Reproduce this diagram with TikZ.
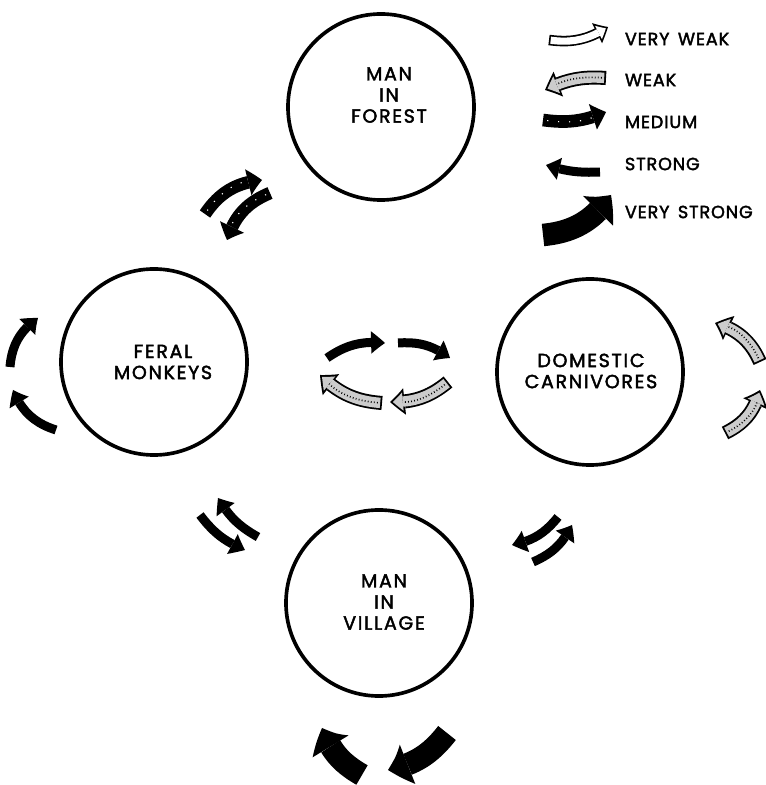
\documentclass[tikz,border=0pt]{standalone}
\usepackage{fontspec}
\setmainfont{Poppins}
\newfontfamily\hostfont{Poppins}[FakeBold=2.2,LetterSpace=9]
\newfontfamily\keyfont{Poppins}[FakeBold=2.2,LetterSpace=5]
\usetikzlibrary{arrows.meta,bending}

\begin{document}
\begin{tikzpicture}[x=0.025cm,y=0.025cm,
    zone/.style={draw,circle,line width=2.6pt,minimum size=4.65cm},
    lbl/.style={align=center,font=\hostfont\fontsize{13.5}{15}\selectfont},
    key/.style={anchor=west,font=\keyfont\fontsize{12.5}{15}\selectfont},
    strong/.style={line width=6.4pt,-{Triangle[width=16pt,length=10pt,line width=0pt,bend]}},
    vstrong/.style={line width=16pt,-{Triangle[width=30pt,length=15pt,line width=0pt,bend]}},
    medium/.style={line width=9pt,-{Triangle[width=19pt,length=10pt,line width=0pt,bend]},
        postaction={draw=white,line width=0.8pt,dash pattern=on 0.8pt off 7pt,shorten >=11pt,shorten <=3pt,-}},
    weak/.style={line width=10pt,-{Triangle[width=19pt,length=10.5pt,line width=0pt,bend]},
        postaction={draw=gray!40,line width=7.4pt,-{Triangle[width=13pt,length=7.2pt,line width=0pt,bend]},shorten >=2pt,shorten <=1.3pt},
        postaction={draw=black,line width=1.2pt,dash pattern=on 0.6pt off 1.6pt,shorten >=9pt,shorten <=3pt,-}},
    vweak/.style={line width=7.5pt,-{Triangle[width=16pt,length=9pt,line width=0pt,bend]},
        postaction={draw=white,line width=5.1pt,-{Triangle[width=10.6pt,length=6pt,line width=0pt,bend]},shorten >=1.8pt,shorten <=1.2pt}}]
\useasboundingbox (0,0) rectangle (766,785);

% the four hosts
\node[zone] (forest) at (381,678) {};
\node[zone] (monkeys) at (154,423) {};
\node[zone] (carniv) at (590,413) {};
\node[zone] (village) at (379,182) {};
\node[lbl] (forest-t) at (389,690) {MAN\\IN\\FOREST};
\node[lbl] (monkeys-t) at (163,423) {FERAL\\MONKEYS};
\node[lbl] (carniv-t) at (591,414) {DOMESTIC\\CARNIVORES};
\node[lbl] (village-t) at (384,183) {MAN\\IN\\VILLAGE};

% ends of the transfer arrows
\coordinate (fm1a) at (205,571); \coordinate (fm1b) at (262,605);
\coordinate (fm2a) at (270,592); \coordinate (fm2b) at (227,545);
\coordinate (ml1a) at (10,418);  \coordinate (ml1b) at (38,467);
\coordinate (ml2a) at (56,355);  \coordinate (ml2b) at (13,395);
\coordinate (mc1a) at (327,427); \coordinate (mc1b) at (385,442);
\coordinate (mc2a) at (398,442); \coordinate (mc2b) at (450,427);
\coordinate (mc3a) at (448,403); \coordinate (mc3b) at (390,383);
\coordinate (mc4a) at (382,382); \coordinate (mc4b) at (320,410);
\coordinate (cr1a) at (760,423); \coordinate (cr1b) at (715,462);
\coordinate (cr2a) at (725,352); \coordinate (cr2b) at (760,395);
\coordinate (mv1a) at (200,270); \coordinate (mv1b) at (245,235);
\coordinate (mv2a) at (258,248); \coordinate (mv2b) at (218,287);
\coordinate (cv1a) at (558,268); \coordinate (cv1b) at (512,240);
\coordinate (cv2a) at (533,223); \coordinate (cv2b) at (572,260);
\coordinate (vb1a) at (362,10);  \coordinate (vb1b) at (322,57);
\coordinate (vb2a) at (447,52);  \coordinate (vb2b) at (388,15);

\draw[medium] (fm1a) to[bend left=25] (fm1b);
\draw[medium] (fm2a) to[bend right=25] (fm2b);
\draw[strong] (ml1a) to[bend left=25] (ml1b);
\draw[strong] (ml2a) to[bend left=25] (ml2b);
\draw[strong] (mc1a) to[bend left=20] (mc1b);
\draw[strong] (mc2a) to[bend left=20] (mc2b);
\draw[weak] (mc3a) to[bend left=20] (mc3b);
\draw[weak] (mc4a) to[bend left=20] (mc4b);
\draw[weak] (cr1a) to[bend right=25] (cr1b);
\draw[weak] (cr2a) to[bend right=25] (cr2b);
\draw[strong] (mv1a) to[bend right=15] (mv1b);
\draw[strong] (mv2a) to[bend left=15] (mv2b);
\draw[strong] (cv1a) to[bend left=20] (cv1b);
\draw[strong] (cv2a) to[bend right=20] (cv2b);
\draw[vstrong] (vb1a) to[bend left=20] (vb1b);
\draw[vstrong] (vb2a) to[bend left=20] (vb2b);

% key
\coordinate (k1a) at (549,745); \coordinate (k1b) at (608,758);
\coordinate (k2a) at (606,707); \coordinate (k2b) at (545,695);
\coordinate (k3a) at (543,665); \coordinate (k3b) at (606,673);
\coordinate (k4a) at (600,613); \coordinate (k4b) at (546,620);
\coordinate (k5a) at (543,550); \coordinate (k5b) at (611,590);
\draw[vweak] (k1a) to[bend right=20] (k1b);
\draw[weak] (k2a) to[bend right=15] (k2b);
\draw[medium] (k3a) to[bend right=15] (k3b);
\draw[strong] (k4a) to[bend left=10] (k4b);
\draw[vstrong] (k5a) to[bend right=25] (k5b);
\node[key] (k1t) at (620,746) {VERY\, WEAK};
\node[key] (k2t) at (620,705) {WEAK};
\node[key] (k3t) at (620,663) {MEDIUM};
\node[key] (k4t) at (620,621) {STRONG};
\node[key] (k5t) at (620,573) {VERY\, STRONG};
\end{tikzpicture}
\end{document}
